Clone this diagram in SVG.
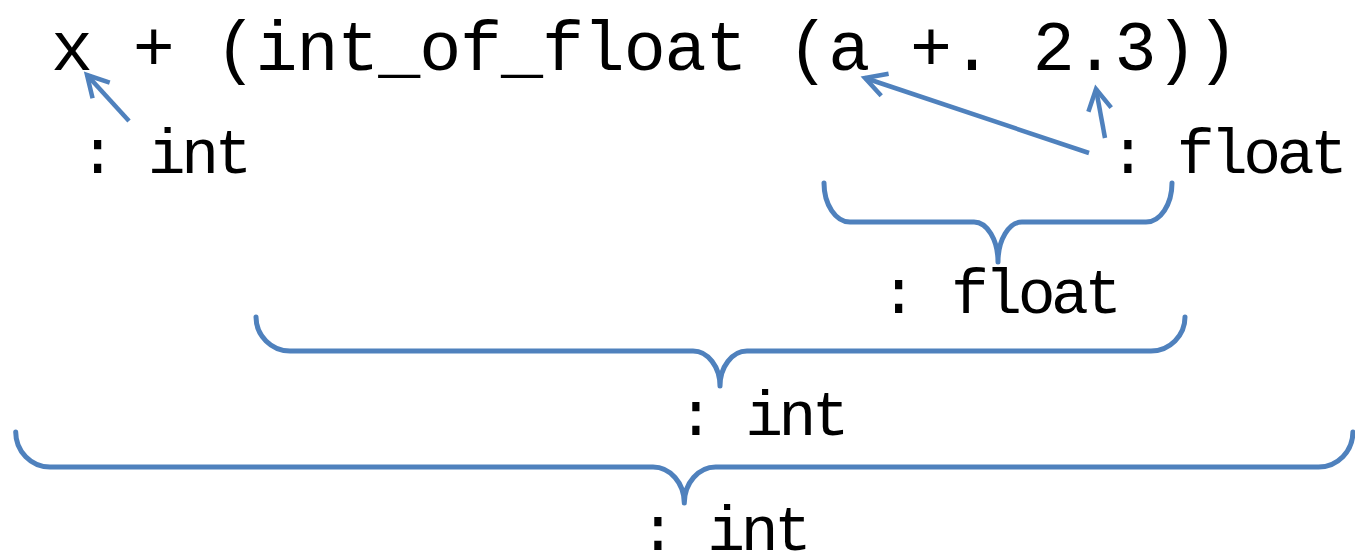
<svg xmlns="http://www.w3.org/2000/svg" width="1355" height="551" viewBox="0 0 1355 551">
<style>
  text { font-family: "Liberation Mono", "DejaVu Sans Mono", monospace; fill: #000; }
  .code { font-size: 70px; letter-spacing: -1.1px; }
  .lbl { font-size: 63px; text-anchor: middle; }
  .w { letter-spacing: -4.5px; }
  .brace { fill: none; stroke: #4F81BD; stroke-width: 5; stroke-linecap: round; stroke-linejoin: round; }
  .arrow { fill: none; stroke: #4F81BD; stroke-width: 4.5; marker-end: url(#vhead); }
</style>
<defs>
  <marker id="vhead" markerUnits="userSpaceOnUse" markerWidth="40" markerHeight="40" refX="0" refY="0" orient="auto" overflow="visible" viewBox="-30 -20 40 40">
    <path d="M-21,-11.6 L0,0 L-21,11.6" fill="none" stroke="#4F81BD" stroke-width="4.5" stroke-linecap="butt" stroke-linejoin="miter"/>
  </marker>
</defs>
<rect width="1355" height="551" fill="#fff"/>
<g id="expr"><text class="code" x="51" y="70">x + (int_of_float (a +. 2.3))</text></g>
<g id="type-x"><text class="lbl" y="173"><tspan x="97.7">:</tspan><tspan class="w" x="197.8">int</tspan></text></g>
<g id="type-a-2.3"><text class="lbl" y="173"><tspan x="1128">:</tspan><tspan class="w" x="1260">float</tspan></text></g>
<g id="type-sum"><text class="lbl" y="313"><tspan x="898.7">:</tspan><tspan class="w" x="1034.3">float</tspan></text></g>
<g id="type-conv"><text class="lbl" y="435"><tspan x="696">:</tspan><tspan class="w" x="795.2">int</tspan></text></g>
<g id="type-all"><text class="lbl" y="550"><tspan x="658">:</tspan><tspan class="w" x="757.3">int</tspan></text></g>
<g id="connectors">
  <path class="brace" d="M824,183 C824,204.5 835.7,222 850,222 L974,222 C987.2,222 998,240 998,262 C998,240 1008.8,222 1022,222 L1146,222 C1160.3,222 1172,204.5 1172,183"/>
  <path class="brace" d="M256,317 C256,335.5 271.3,351 290,351 L693,351 C707.9,351 720,367 720,386 C720,367 732.1,351 747,351 L1151,351 C1169.7,351 1185,335.5 1185,317"/>
  <path class="brace" d="M15.7,432 C15.7,451.3 31,467 50,467 L653,467 C670,467 684.3,483 684.3,503 C684.3,483 698.6,467 715.6,467 L1318.6,467 C1337.6,467 1352.9,451.3 1352.9,432"/>
  <path class="arrow" d="M129,121 L87,75"/>
  <path class="arrow" d="M1089,153 L865,78"/>
  <path class="arrow" d="M1105,138 L1096,89"/>
</g>
</svg>
